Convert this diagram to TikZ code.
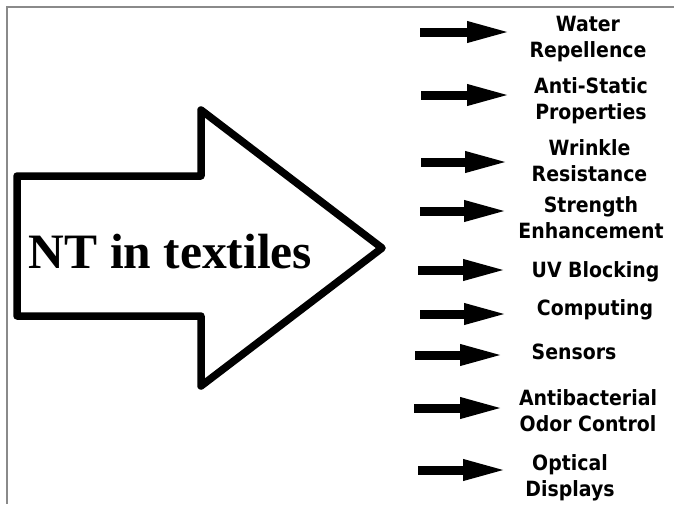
\documentclass[tikz,border=0pt]{standalone}
\usepackage{fontspec}
\setmainfont{Liberation Serif}
\newfontfamily\labfont[FakeStretch=0.9]{DejaVu Sans}
\usetikzlibrary{arrows.meta}
\definecolor{framegray}{HTML}{8A8A8A}
\tikzset{
  bigarrow/.style={line width=7.5pt, line join=round, draw=black, fill=white},
  smallarrow/.style={line width=9pt, -{Triangle[length=45pt,width=19pt]}},
  lbl/.style={anchor=base, inner sep=0pt, font=\labfont\bfseries\fontsize{21}{26}\selectfont},
  titletext/.style={anchor=base, inner sep=0pt, font=\bfseries\fontsize{49.5}{55}\selectfont},
  frameline/.style={draw=framegray, line width=2pt}
}
\newcommand{\twolines}[2]{\begin{tabular}[t]{@{}c@{}}#1\\#2\end{tabular}}
\begin{document}
\begin{tikzpicture}[x=1pt,y=1pt]
  \fill[white] (0,0) rectangle (674,-504);
  \useasboundingbox (0,0) rectangle (674,-504);
  % frame
  \coordinate (fr1) at (674,-6.5);
  \coordinate (fr2) at (7,-6.5);
  \coordinate (fr3) at (7,-504);
  \draw[frameline] (fr1) -- (fr2) -- (fr3);
  % big arrow
  \draw[bigarrow] (17,-176) -- (201,-176) -- (201,-110) -- (382,-248)
     -- (201,-386) -- (201,-316) -- (17,-316) -- cycle;
  \node[titletext] (nt) at (170.5,-268) {NT in textiles};
  % labels
  \node[lbl] (l1) at (588,-31) {\twolines{Water}{Repellence}};
  \node[lbl] (l2) at (591,-93) {\twolines{Anti-Static}{Properties}};
  \node[lbl] (l3) at (589.5,-155) {\twolines{Wrinkle}{Resistance}};
  \node[lbl] (l4) at (591,-212) {\twolines{Strength}{Enhancement}};
  \node[lbl] (l5) at (595.5,-277) {UV Blocking};
  \node[lbl] (l6) at (595,-315) {Computing};
  \node[lbl] (l7) at (574,-359) {Sensors};
  \node[lbl] (l8) at (588,-405) {\twolines{Antibacterial}{Odor Control}};
  \node[lbl] (l9) at (570,-470) {\twolines{Optical}{Displays}};
  % small arrows
  \coordinate (s1) at (420,-32);   \coordinate (e1) at (512,-32);
  \coordinate (s2) at (421,-95);   \coordinate (e2) at (512,-95);
  \coordinate (s3) at (421,-162);  \coordinate (e3) at (510,-162);
  \coordinate (s4) at (420,-211);  \coordinate (e4) at (509,-211);
  \coordinate (s5) at (418,-270);  \coordinate (e5) at (508,-270);
  \coordinate (s6) at (420,-314);  \coordinate (e6) at (509,-314);
  \coordinate (s7) at (415,-355);  \coordinate (e7) at (505,-355);
  \coordinate (s8) at (414,-408);  \coordinate (e8) at (505,-408);
  \coordinate (s9) at (418,-470);  \coordinate (e9) at (508,-470);
  \foreach \i in {1,...,9} {\draw[smallarrow] (s\i) -- (e\i);}
\end{tikzpicture}
\end{document}
